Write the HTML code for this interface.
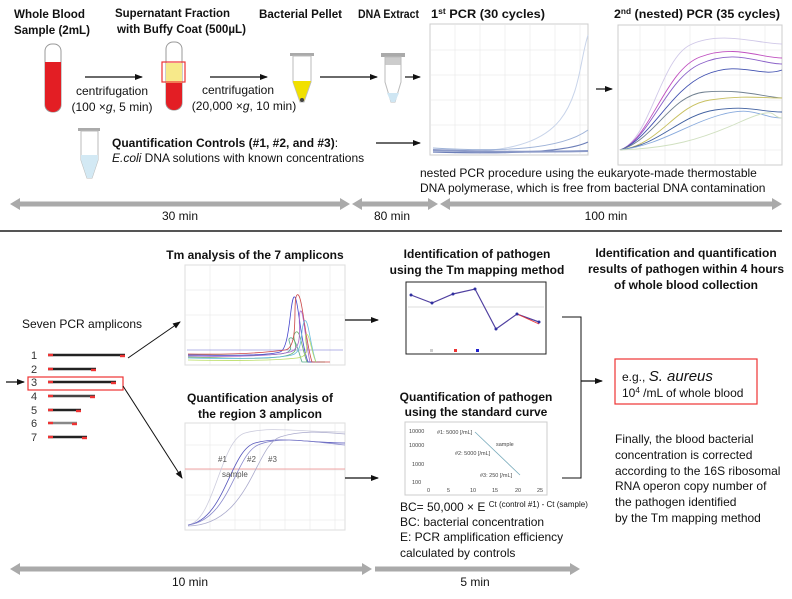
<!DOCTYPE html>
<html><head><meta charset="utf-8"><style>
html,body{margin:0;padding:0;background:#fff;}
svg{display:block;font-family:"Liberation Sans",sans-serif;}
.b{font-weight:bold;font-size:12px;fill:#111;}
.t{font-size:12px;fill:#111;}
.g{stroke:#e6e6e6;stroke-width:0.6;}
</style></head><body>
<svg width="792" height="599" viewBox="0 0 792 599" xmlns="http://www.w3.org/2000/svg">
<defs>
<marker id="ah" markerWidth="8" markerHeight="8" refX="7" refY="4" orient="auto" markerUnits="userSpaceOnUse"><path d="M0,1 L8,4 L0,7 Z" fill="#111"/></marker>
</defs>

<!-- TOP SECTION titles -->
<text class="b" x="14" y="18" textLength="71" lengthAdjust="spacingAndGlyphs">Whole Blood</text>
<text class="b" x="14" y="34" textLength="76" lengthAdjust="spacingAndGlyphs">Sample (2mL)</text>
<text class="b" x="115" y="17" textLength="115" lengthAdjust="spacingAndGlyphs">Supernatant Fraction</text>
<text class="b" x="117" y="33" textLength="129" lengthAdjust="spacingAndGlyphs">with Buffy Coat (500µL)</text>
<text class="b" x="259" y="18" textLength="83" lengthAdjust="spacingAndGlyphs">Bacterial Pellet</text>
<text class="b" x="358" y="18" textLength="61" lengthAdjust="spacingAndGlyphs">DNA Extract</text>
<text class="b" x="431" y="18" textLength="114" lengthAdjust="spacingAndGlyphs">1<tspan font-size="8" dy="-4">st</tspan><tspan dy="4"> PCR (30 cycles)</tspan></text>
<text class="b" x="614" y="18" textLength="166" lengthAdjust="spacingAndGlyphs">2<tspan font-size="8" dy="-4">nd</tspan><tspan dy="4"> (nested) PCR (35 cycles)</tspan></text>

<!-- tube 1 -->
<rect x="45" y="44" width="16" height="68" rx="7" fill="#fff" stroke="#999" stroke-width="1"/>
<path d="M45,62 H61 V104 a8,8 0 0 1 -16,0 Z" fill="#e31e24"/>
<line x1="85" y1="77" x2="142" y2="77" stroke="#111" stroke-width="1.2" marker-end="url(#ah)"/>
<text class="t" x="112" y="95" text-anchor="middle">centrifugation</text>
<text class="t" x="112" y="111" text-anchor="middle">(100 ×<tspan font-style="italic">g</tspan>, 5 min)</text>
<!-- tube 2 -->
<rect x="166" y="42" width="16" height="68" rx="7" fill="#fff" stroke="#999" stroke-width="1"/>
<rect x="166" y="63" width="16" height="20" fill="#f7e98a"/>
<path d="M166,83 H182 V102 a8,8 0 0 1 -16,0 Z" fill="#e31e24"/>
<rect x="162" y="62" width="23" height="20" fill="none" stroke="#e33" stroke-width="1.2"/>
<line x1="210" y1="77" x2="267" y2="77" stroke="#111" stroke-width="1.2" marker-end="url(#ah)"/>
<text class="t" x="238" y="94" text-anchor="middle">centrifugation</text>
<text class="t" x="244" y="110" text-anchor="middle">(20,000 ×<tspan font-style="italic">g</tspan>, 10 min)</text>
<!-- tube 3 -->
<rect x="290" y="53" width="24" height="3" fill="#aaa"/>
<path d="M293,56 H311 V82 L304,102 H300 L293,82 Z" fill="#fff" stroke="#bbb"/>
<path d="M293,81 H311 L304,101 H300 L293,82 Z" fill="#f1e000"/>
<circle cx="302" cy="100" r="2" fill="#444"/>
<line x1="320" y1="77" x2="377" y2="77" stroke="#111" stroke-width="1.2" marker-end="url(#ah)"/>
<!-- tube 4 -->
<rect x="381" y="53" width="24" height="4" fill="#aaa"/>
<rect x="385" y="57" width="16" height="8" fill="#ccc"/>
<path d="M385,57 H401 V82 L395,102 H391 L385,82 Z" fill="none" stroke="#bbb"/>
<path d="M387,93 H399 L395,102 H391 Z" fill="#cfe6f3"/>
<line x1="405" y1="77" x2="420" y2="77" stroke="#111" stroke-width="1.2" marker-end="url(#ah)"/>

<!-- control tube -->
<rect x="78" y="128" width="22" height="3" fill="#aaa"/>
<path d="M81,131 H98 V160 L92,178 H87 L81,160 Z" fill="#fff" stroke="#bbb"/>
<path d="M81,155 H98 V160 L92,178 H87 L81,160 Z" fill="#d3e9f4"/>
<text class="b" x="112" y="147">Quantification Controls (#1, #2, and #3)<tspan font-weight="normal">:</tspan></text>
<text class="t" x="112" y="162"><tspan font-style="italic">E.coli</tspan> DNA solutions with known concentrations</text>
<line x1="376" y1="143" x2="420" y2="143" stroke="#111" stroke-width="1.2" marker-end="url(#ah)"/>

<!-- 1st PCR chart -->
<rect x="430" y="24" width="158" height="131" fill="#fff" stroke="#ccc"/>
<g class="g">
<line x1="455" y1="24" x2="455" y2="155"/><line x1="480" y1="24" x2="480" y2="155"/><line x1="505" y1="24" x2="505" y2="155"/><line x1="530" y1="24" x2="530" y2="155"/><line x1="555" y1="24" x2="555" y2="155"/><line x1="580" y1="24" x2="580" y2="155"/>
<line x1="430" y1="50" x2="588" y2="50"/><line x1="430" y1="75" x2="588" y2="75"/><line x1="430" y1="100" x2="588" y2="100"/><line x1="430" y1="125" x2="588" y2="125"/>
</g>
<path d="M433,150 C500,155 540,145 560,120 S580,60 588,35" fill="none" stroke="#c8d4ea" stroke-width="1"/>
<path d="M433,148 C500,152 560,150 588,130" fill="none" stroke="#9fb3d8" stroke-width="1"/>
<path d="M433,152 C500,154 565,153 588,142" fill="none" stroke="#6d7fb8" stroke-width="1.2"/>
<path d="M433,150 C480,152 540,152 588,151" fill="none" stroke="#8c9ac8" stroke-width="2"/>

<line x1="596" y1="89" x2="612" y2="89" stroke="#111" stroke-width="1.2" marker-end="url(#ah)"/>
<!-- 2nd PCR chart -->
<rect x="618" y="25" width="164" height="140" fill="#fff" stroke="#ccc"/>
<g class="g">
<line x1="640" y1="25" x2="640" y2="165"/><line x1="665" y1="25" x2="665" y2="165"/><line x1="690" y1="25" x2="690" y2="165"/><line x1="715" y1="25" x2="715" y2="165"/><line x1="740" y1="25" x2="740" y2="165"/><line x1="765" y1="25" x2="765" y2="165"/>
<line x1="618" y1="50" x2="782" y2="50"/><line x1="618" y1="75" x2="782" y2="75"/><line x1="618" y1="100" x2="782" y2="100"/><line x1="618" y1="125" x2="782" y2="125"/><line x1="618" y1="150" x2="782" y2="150"/>
</g>
<g fill="none" stroke-width="0.9">
<path d="M620,150 C650,140 660,60 690,45 S760,44 782,44" stroke="#d0c8e8"/>
<path d="M620,150 C650,140 665,70 700,57 S760,58 782,58" stroke="#c050c0"/>
<path d="M620,150 C650,140 665,80 700,64 S760,64 782,64" stroke="#8a60c8"/>
<path d="M620,150 C650,140 670,90 705,75 S760,78 782,70" stroke="#4050b0"/>
<path d="M620,150 C655,140 670,95 705,92 S760,96 782,98" stroke="#708090"/>
<path d="M620,150 C660,145 675,105 710,100 S760,98 782,98" stroke="#c8c060"/>
<path d="M620,150 C660,145 680,115 715,110 S760,112 782,112" stroke="#4060a0"/>
<path d="M620,150 C660,145 685,125 720,115 S760,118 782,118" stroke="#88aadd"/>
<path d="M620,150 C670,148 700,140 740,122 S770,118 782,118" stroke="#d0e0c0"/>
</g>

<text class="t" x="420" y="177">nested PCR procedure using the eukaryote-made thermostable</text>
<text class="t" x="420" y="192">DNA polymerase, which is free from bacterial DNA contamination</text>

<!-- top timeline -->
<g fill="#aaa">
<path d="M10,204 L20,198 V201.5 H340 V198 L350,204 L340,210 V206.5 H20 V210 Z"/>
<path d="M352,204 L362,198 V201.5 H428 V198 L438,204 L428,210 V206.5 H362 V210 Z"/>
<path d="M440,204 L450,198 V201.5 H772 V198 L782,204 L772,210 V206.5 H450 V210 Z"/>
</g>
<text class="t" x="180" y="220" text-anchor="middle">30 min</text>
<text class="t" x="392" y="220" text-anchor="middle">80 min</text>
<text class="t" x="606" y="220" text-anchor="middle">100 min</text>
<line x1="0" y1="231" x2="782" y2="231" stroke="#555" stroke-width="2"/>

<!-- BOTTOM -->
<text class="b" x="255" y="259" text-anchor="middle">Tm analysis of the 7 amplicons</text>
<text class="t" x="22" y="328">Seven PCR amplicons</text>
<g font-size="11" fill="#333">
<text x="31" y="359">1</text><text x="31" y="373">2</text><text x="31" y="386">3</text><text x="31" y="400">4</text><text x="31" y="414">5</text><text x="31" y="427">6</text><text x="31" y="441">7</text>
</g>
<g stroke-width="2.4">
<line x1="48" y1="355" x2="125" y2="355" stroke="#222"/><line x1="48" y1="355" x2="53" y2="355" stroke="#e33"/><line x1="120" y1="356" x2="125" y2="356" stroke="#e33"/>
<line x1="48" y1="369" x2="96" y2="369" stroke="#222"/><line x1="48" y1="369" x2="53" y2="369" stroke="#e33"/><line x1="91" y1="370" x2="96" y2="370" stroke="#e33"/>
<line x1="48" y1="382" x2="116" y2="382" stroke="#222"/><line x1="48" y1="382" x2="53" y2="382" stroke="#e33"/><line x1="111" y1="383" x2="116" y2="383" stroke="#e33"/>
<line x1="48" y1="396" x2="95" y2="396" stroke="#444"/><line x1="48" y1="396" x2="53" y2="396" stroke="#e33"/><line x1="90" y1="397" x2="95" y2="397" stroke="#e33"/>
<line x1="48" y1="410" x2="81" y2="410" stroke="#222"/><line x1="48" y1="410" x2="53" y2="410" stroke="#e33"/><line x1="76" y1="411" x2="81" y2="411" stroke="#e33"/>
<line x1="48" y1="423" x2="77" y2="423" stroke="#888"/><line x1="48" y1="423" x2="53" y2="423" stroke="#e33"/><line x1="72" y1="424" x2="77" y2="424" stroke="#e33"/>
<line x1="48" y1="437" x2="87" y2="437" stroke="#222"/><line x1="48" y1="437" x2="53" y2="437" stroke="#e33"/><line x1="82" y1="438" x2="87" y2="438" stroke="#e33"/>
</g>
<rect x="28" y="377" width="95" height="13" fill="none" stroke="#e33" stroke-width="1.2"/>
<line x1="6" y1="382" x2="24" y2="382" stroke="#111" stroke-width="1.2" marker-end="url(#ah)"/>
<line x1="128" y1="358" x2="180" y2="322" stroke="#111" stroke-width="1" marker-end="url(#ah)"/>
<line x1="123" y1="386" x2="182" y2="478" stroke="#111" stroke-width="1" marker-end="url(#ah)"/>

<!-- Tm chart -->
<rect x="185" y="265" width="160" height="100" fill="#fff" stroke="#ddd"/>
<g class="g">
<line x1="210" y1="265" x2="210" y2="365"/><line x1="240" y1="265" x2="240" y2="365"/><line x1="270" y1="265" x2="270" y2="365"/><line x1="300" y1="265" x2="300" y2="365"/><line x1="330" y1="265" x2="330" y2="365"/>
<line x1="185" y1="290" x2="345" y2="290"/><line x1="185" y1="315" x2="345" y2="315"/><line x1="185" y1="340" x2="345" y2="340"/>
</g>
<line x1="187" y1="350" x2="343" y2="350" stroke="#9a9adf" stroke-width="0.8"/>
<g fill="none" stroke-width="0.8">
<path d="M188,355 C230,355 260,356 280,354 S285,340 290,338 S298,350 302,362 L325,362" stroke="#5a8"/>
<path d="M188,357 C230,358 265,360 285,356 S290,340 295,333 S302,350 307,362 L325,362" stroke="#6a6"/>
<path d="M188,355 C240,356 270,355 280,352 S290,300 294,297 S300,340 308,362 L320,362" stroke="#44c"/>
<path d="M188,354 C240,355 270,352 285,350 S292,300 297,295 S305,340 312,362 L330,362" stroke="#c44"/>
<path d="M188,356 C240,357 275,356 290,352 S297,320 300,312 S305,340 310,362" stroke="#a6c"/>
<path d="M188,358 C240,359 280,358 292,355 S300,330 304,322 S310,345 316,362" stroke="#6bd"/>
<path d="M188,360 C240,361 280,360 297,358 S303,340 306,335 S312,355 316,362" stroke="#bd6"/>
</g>
<text class="b" x="260" y="402" text-anchor="middle">Quantification analysis of</text>
<text class="b" x="260" y="418" text-anchor="middle">the region 3 amplicon</text>
<rect x="185" y="423" width="160" height="107" fill="#fff" stroke="#ddd"/>
<g class="g">
<line x1="210" y1="423" x2="210" y2="530"/><line x1="235" y1="423" x2="235" y2="530"/><line x1="260" y1="423" x2="260" y2="530"/><line x1="285" y1="423" x2="285" y2="530"/><line x1="310" y1="423" x2="310" y2="530"/><line x1="335" y1="423" x2="335" y2="530"/>
<line x1="185" y1="445" x2="345" y2="445"/><line x1="185" y1="470" x2="345" y2="470"/><line x1="185" y1="495" x2="345" y2="495"/><line x1="185" y1="520" x2="345" y2="520"/>
</g>
<line x1="185" y1="469" x2="345" y2="469" stroke="#e88" stroke-width="0.8"/>
<g fill="none" stroke-width="0.8">
<path d="M188,525 C215,520 220,440 245,433 S300,432 345,432" stroke="#ccd"/>
<path d="M188,525 C225,520 230,450 255,443 S310,443 345,443" stroke="#55b"/>
<path d="M188,525 C230,520 235,455 258,445 S320,443 345,445" stroke="#88c"/>
<path d="M188,526 C250,525 255,445 280,437 S330,433 345,434" stroke="#aac"/>
</g>
<g font-size="8" fill="#555"><text x="218" y="462">#1</text><text x="247" y="462">#2</text><text x="268" y="462">#3</text><text x="222" y="477">sample</text></g>

<line x1="345" y1="320" x2="378" y2="320" stroke="#111" stroke-width="1.2" marker-end="url(#ah)"/>
<line x1="345" y1="478" x2="378" y2="478" stroke="#111" stroke-width="1.2" marker-end="url(#ah)"/>

<text class="b" x="477" y="258" text-anchor="middle">Identification of pathogen</text>
<text class="b" x="477" y="274" text-anchor="middle">using the Tm mapping method</text>
<rect x="406" y="282" width="140" height="72" fill="#fff" stroke="#222" stroke-width="1"/>
<line x1="408" y1="307" x2="544" y2="307" stroke="#ddd"/>
<polyline points="411,295 432,303 453,294 475,289 496,329 517,314 539,322" fill="none" stroke="#5040a0" stroke-width="1.2"/>
<polyline points="517,314 539,324" fill="none" stroke="#e33" stroke-width="0.8"/>
<g fill="#3030a0"><circle cx="411" cy="295" r="1.5"/><circle cx="432" cy="303" r="1.5"/><circle cx="453" cy="294" r="1.5"/><circle cx="475" cy="289" r="1.5"/><circle cx="496" cy="329" r="1.5"/><circle cx="517" cy="314" r="1.5"/><circle cx="539" cy="322" r="1.5"/></g>
<rect x="430" y="349" width="3" height="3" fill="#ccc"/><rect x="454" y="349" width="3" height="3" fill="#e33"/><rect x="476" y="349" width="3" height="3" fill="#22c"/>

<text class="b" x="476" y="401" text-anchor="middle">Quantification of pathogen</text>
<text class="b" x="476" y="416" text-anchor="middle">using the standard curve</text>
<rect x="405" y="422" width="142" height="73" fill="#fff" stroke="#ccc"/>
<line x1="475" y1="432" x2="520" y2="475" stroke="#7ab" stroke-width="0.8"/>
<g font-size="5.5" fill="#444"><text x="437" y="434">#1: 5000 [/mL]</text><text x="496" y="446">sample</text><text x="455" y="455">#2: 5000 [/mL]</text><text x="480" y="477">#3: 250 [/mL]</text>
<text x="409" y="433">10000</text><text x="409" y="447">10000</text><text x="412" y="466">1000</text><text x="412" y="484">100</text>
<text x="427" y="492">0</text><text x="447" y="492">5</text><text x="470" y="492">10</text><text x="492" y="492">15</text><text x="515" y="492">20</text><text x="537" y="492">25</text></g>

<text class="t" x="400" y="511">BC= 50,000 × E <tspan font-size="8" dy="-4">Ct (control #1) - Ct (sample)</tspan></text>
<text class="t" x="400" y="526">BC: bacterial concentration</text>
<text class="t" x="400" y="541">E: PCR amplification efficiency</text>
<text class="t" x="400" y="557">calculated by controls</text>

<polyline points="562,317 581,317 581,478 562,478" fill="none" stroke="#111" stroke-width="1"/>
<line x1="581" y1="381" x2="602" y2="381" stroke="#111" stroke-width="1.2" marker-end="url(#ah)"/>

<text class="b" x="686" y="257" text-anchor="middle">Identification and quantification</text>
<text class="b" x="686" y="273" text-anchor="middle">results of pathogen within 4 hours</text>
<text class="b" x="686" y="289" text-anchor="middle">of whole blood collection</text>
<rect x="615" y="359" width="142" height="45" fill="#fff" stroke="#e33" stroke-width="1.2"/>
<text class="t" x="622" y="381">e.g., <tspan font-style="italic" font-size="15">S. aureus</tspan></text>
<text class="t" x="622" y="397">10<tspan font-size="8" dy="-4">4</tspan><tspan dy="4"> /mL of whole blood</tspan></text>

<text class="t" x="615" y="443">Finally, the blood bacterial</text>
<text class="t" x="615" y="459">concentration is corrected</text>
<text class="t" x="615" y="475">according to the 16S ribosomal</text>
<text class="t" x="615" y="490">RNA operon copy number of</text>
<text class="t" x="615" y="506">the pathogen  identified</text>
<text class="t" x="615" y="522">by the Tm mapping method</text>

<g fill="#aaa">
<path d="M10,569 L20,563 V566.5 H362 V563 L372,569 L362,575 V571.5 H20 V575 Z"/>
<path d="M375,566.5 H570 V563 L580,569 L570,575 V571.5 H375 Z"/>
</g>
<text class="t" x="190" y="586" text-anchor="middle">10 min</text>
<text class="t" x="475" y="586" text-anchor="middle">5 min</text>
</svg>
</body></html>
